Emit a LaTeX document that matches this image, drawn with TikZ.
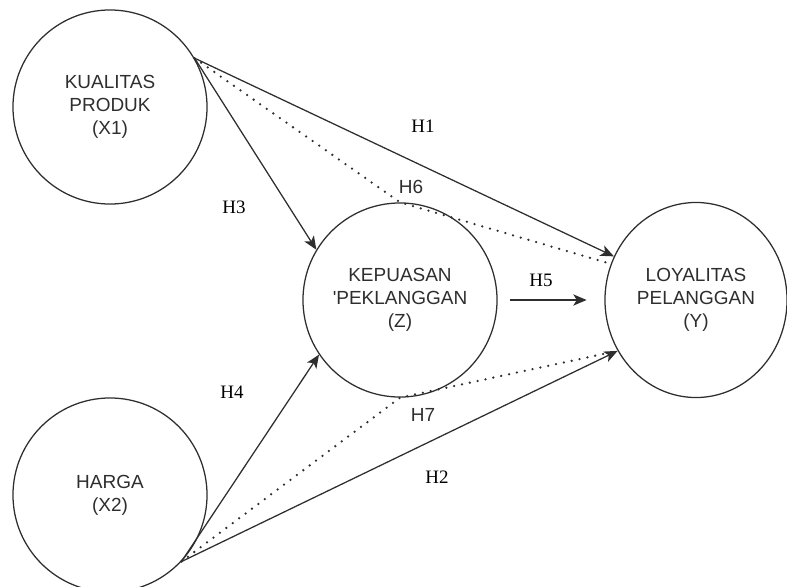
\documentclass[tikz,border=0pt]{standalone}
\usepackage{fontspec}
\setmainfont{Liberation Serif}
\setsansfont{Liberation Sans}
\usetikzlibrary{arrows.meta,shapes.geometric}
\definecolor{linegray}{HTML}{2E2E2E}

\begin{document}
\begin{tikzpicture}[x=0.025cm, y=-0.025cm, line width=0.9pt, draw=linegray,
  var/.style={circle, draw=linegray, minimum size=4.85cm, inner sep=0pt, align=center, text=linegray, font=\sffamily\fontsize{13.5}{16.5}\selectfont},
  path/.style={-{Stealth[length=9.5pt,width=8pt,inset=2.5pt]}},
  indirect/.style={line width=1.8pt, dash pattern=on 0pt off 5.7pt, line cap=round},
  hyp/.style={font=\fontsize{13.5}{15}\selectfont},
  hypsf/.style={font=\sffamily\fontsize{13.5}{15}\selectfont, text=linegray}]
\useasboundingbox (0,0) rectangle (787,586);
\node[var] (X1) at (110,107) {KUALITAS\\PRODUK\\(X1)};
\node[var] (X2) at (110,495) {HARGA\\(X2)};
\node[var] (Z) at (400,300) {KEPUASAN\\\textquotesingle PEKLANGGAN\\(Z)};
\node[var, ellipse, minimum width=4.55cm, minimum height=4.875cm] (Y) at (696,300) {LOYALITAS\\PELANGGAN\\(Y)};
\draw[path] (X1.30) -- (Y.152); % H1
\draw[path] (X1.30) -- (Z.149); % H3
\draw[indirect] (X1.30) -- (Z.north) -- (Y.157); % H6
\draw[path] (X2.-43) -- (Z.214); % H4
\draw[path] (X2.-43) -- (Y.213); % H2
\draw[indirect] (X2.-43) -- (Z.south) -- (Y.213); % H7
\draw[path, shorten <=10\pgflinewidth, shorten >=14\pgflinewidth] (Z.east) -- (Y.west); % H5
\node[hyp] (h1) at (423,126) {H1};
\node[hyp] (h2) at (437,477) {H2};
\node[hyp] (h3) at (234,207) {H3};
\node[hyp] (h4) at (232,392) {H4};
\node[hyp] (h5) at (541,280) {H5};
\node[hypsf] (h6) at (411,187) {H6};
\node[hypsf] (h7) at (423,415) {H7};
\end{tikzpicture}
\end{document}
